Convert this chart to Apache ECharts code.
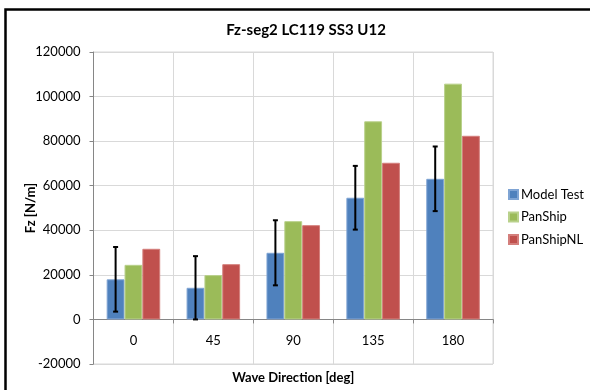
<!DOCTYPE html>
<html>
<head>
<meta charset="utf-8">
<script src="https://cdn.jsdelivr.net/npm/echarts@6/dist/echarts.min.js"></script>
<style>
  html, body { margin: 0; padding: 0; background: #fff; }
  #chart { width: 590px; height: 390px; }
</style>
</head>
<body>
<div id="chart"></div>
<script>
// Wave directions and measured / computed segment forces
const categories = ['0', '45', '90', '135', '180'];
const modelTest = [18000, 14200, 29900, 54600, 63100];
const modelTestErr = [14500, 14200, 14600, 14300, 14500];
const panShip = [24500, 19900, 44100, 88900, 105800];
const panShipNL = [31700, 24800, 42300, 70300, 82400];

const FONT = 'Lato, "Open Sans", sans-serif';
const GRID_GRAY = '#d9d9d9';
const AXIS_GRAY = '#868686';
const CAT_GAP = 0.33;

const chart = echarts.init(document.getElementById('chart'), null, { renderer: 'canvas' });

// Error bar data: [category index, low, high]
const errData = modelTest.map((v, i) => [i, v - modelTestErr[i], v + modelTestErr[i]]);

chart.setOption({
  animation: false,
  backgroundColor: '#fff',
  textStyle: { fontFamily: FONT, color: '#000' },
  title: {
    text: 'Fz-seg2 LC119 SS3 U12',
    left: 301, top: 18, textAlign: 'center',
    textStyle: { fontFamily: FONT, fontWeight: 'bold', fontSize: 15, color: '#000' }
  },
  legend: {
    orient: 'vertical',
    left: 508, top: 188,
    padding: 0,
    itemWidth: 9, itemHeight: 9, itemGap: 9.5,
    icon: 'rect',
    textStyle: { fontFamily: FONT, fontSize: 13, color: '#000', padding: [0, 0, 0, -2] },
    data: ['Model Test', 'PanShip', 'PanShipNL']
  },
  graphic: [{
    type: 'rect', silent: true, z: 100,
    shape: { x: 5.5, y: 9.5, width: 700, height: 500 },
    style: { fill: 'none', stroke: '#000', lineWidth: 2.5 }
  }],
  grid: {
    left: 93.5, right: 97, top: 52, bottom: 26,
    show: true, borderColor: GRID_GRAY, borderWidth: 1,
    containLabel: false,
    outerBoundsMode: 'none'
  },
  xAxis: {
    type: 'category',
    data: categories,
    name: 'Wave Direction [deg]',
    nameLocation: 'middle',
    nameGap: 7,
    nameMoveOverlap: false,
    nameTextStyle: { fontFamily: FONT, fontWeight: 'bold', fontSize: 13, color: '#000' },
    axisLine: { onZero: true, lineStyle: { color: AXIS_GRAY, width: 1 } },
    axisTick: { show: true, length: 4, lineStyle: { color: AXIS_GRAY } },
    // category labels sit between the zero line and the bottom of the plot
    axisLabel: { margin: -30, fontSize: 13, color: '#000', fontFamily: FONT },
    splitLine: { show: true, lineStyle: { color: GRID_GRAY, width: 1 } }
  },
  yAxis: {
    type: 'value',
    min: -20000, max: 120000, interval: 20000,
    name: 'Fz [N/m]',
    nameLocation: 'middle',
    nameGap: 56,
    nameRotate: 90,
    nameMoveOverlap: false,
    nameTextStyle: { fontFamily: FONT, fontWeight: 'bold', fontSize: 13, color: '#000' },
    axisLine: { show: true, lineStyle: { color: AXIS_GRAY, width: 1 } },
    axisTick: { show: true, length: 4, lineStyle: { color: AXIS_GRAY } },
    axisLabel: { margin: 13, fontSize: 13, color: '#000', fontFamily: FONT,
      formatter: function (v) { return String(v); } },
    splitLine: { show: true, lineStyle: { color: GRID_GRAY, width: 1 } }
  },
  series: [
    {
      name: 'Model Test', type: 'bar', data: modelTest,
      barGap: '0%', barCategoryGap: (CAT_GAP * 100) + '%',
      itemStyle: { color: '#4F81BD', borderColor: '#7FA4D4', borderWidth: 1 }
    },
    {
      name: 'PanShip', type: 'bar', data: panShip,
      itemStyle: { color: '#9BBB59', borderColor: '#B9D18B', borderWidth: 1 }
    },
    {
      name: 'PanShipNL', type: 'bar', data: panShipNL,
      itemStyle: { color: '#C0504D', borderColor: '#D47F7C', borderWidth: 1 }
    },
    {
      name: 'Model Test error', type: 'custom', z: 10,
      data: errData,
      renderItem: function (params, api) {
        const idx = api.value(0);
        const lo = api.coord([idx, api.value(1)]);
        const hi = api.coord([idx, api.value(2)]);
        // Shift to the centre of the first bar in the group
        const catW = api.size([1, 0])[0];
        const dx = -catW * (1 - CAT_GAP) / 3;
        const x = lo[0] + dx;
        const cap = 2.5;
        const st = { stroke: '#000', lineWidth: 2 };
        return {
          type: 'group',
          children: [
            { type: 'line', shape: { x1: x, y1: hi[1], x2: x, y2: lo[1] }, style: st },
            { type: 'line', shape: { x1: x - cap, y1: hi[1], x2: x + cap, y2: hi[1] }, style: st },
            { type: 'line', shape: { x1: x - cap, y1: lo[1], x2: x + cap, y2: lo[1] }, style: st }
          ]
        };
      }
    }
  ]
});
</script>
</body>
</html>
